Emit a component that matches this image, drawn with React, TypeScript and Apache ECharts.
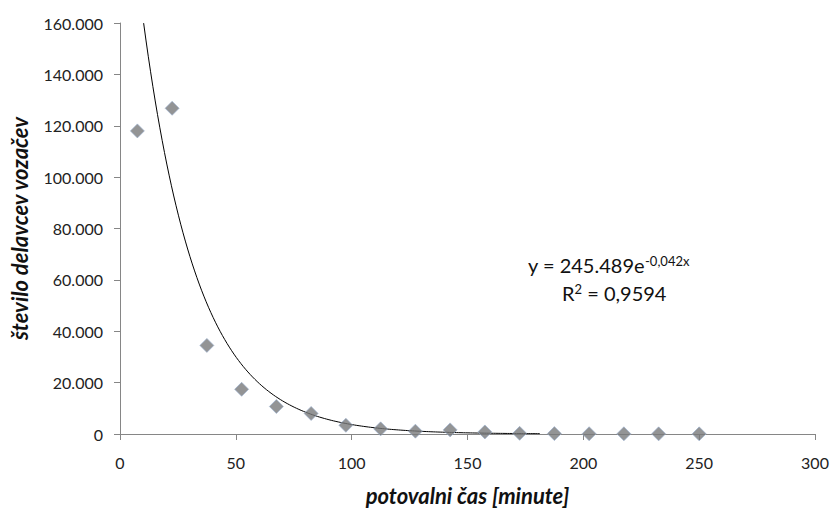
import React, { useEffect, useRef } from "react";
import * as echarts from "echarts";

const xValues = [7.5, 22.5, 37.5, 52.5, 67.5, 82.5, 97.5, 112.5, 127.5, 142.5, 157.5, 172.5, 187.5, 202.5, 217.5, 232.5, 250];
const yValues = [118000, 126800, 34500, 17400, 10700, 8000, 3400, 2000, 1100, 1600, 800, 250, 150, 100, 80, 60, 50];
const trendA = 245489;
const trendB = -0.042;
const trendStart = 10.2;
const trendEnd = 182;
const xTitle = "potovalni čas [minute]";
const yTitle = "število delavcev vozačev";

function fmtThousands(v: number): string {
  return String(Math.round(v)).replace(/\B(?=(\d{3})+(?!\d))/g, ".");
}

export default function App() {
  const ref = useRef<HTMLDivElement>(null);
  useEffect(() => {
    if (!ref.current) return;
    const chart = echarts.init(ref.current, null, { renderer: "svg" });
    const trend: number[][] = [];
    for (let x = trendStart; x <= trendEnd; x += 1) {
      trend.push([x, trendA * Math.exp(trendB * x)]);
    }
    const axisColor = "#868686";
    chart.setOption({
      animation: false,
      backgroundColor: "#ffffff",
      grid: { left: 120, right: 17, top: 23, bottom: 76, containLabel: false, outerBoundsMode: "none" },
      xAxis: {
        type: "value",
        min: 0,
        max: 300,
        interval: 50,
        splitLine: { show: false },
        axisLine: { lineStyle: { color: axisColor } },
        axisTick: { show: true, length: 6, lineStyle: { color: axisColor } },
        axisLabel: { color: "#222", fontFamily: "Lato", fontSize: 16, margin: 20 },
        name: xTitle,
        nameLocation: "middle",
        nameGap: 50,
        nameTextStyle: { fontFamily: "Lato", fontSize: 22, fontWeight: "bold", fontStyle: "italic", color: "#111" },
      },
      yAxis: {
        type: "value",
        min: 0,
        max: 160000,
        interval: 20000,
        splitLine: { show: false },
        axisLine: { show: true, lineStyle: { color: axisColor } },
        axisTick: { show: true, length: 6, lineStyle: { color: axisColor } },
        axisLabel: {
          color: "#222",
          fontFamily: "Lato",
          fontSize: 16,
          margin: 17,
          formatter: (v: number) => fmtThousands(v),
        },
        name: yTitle,
        nameLocation: "middle",
        nameGap: 90,
        nameRotate: 90,
        nameTextStyle: { fontFamily: "Lato", fontSize: 22, fontWeight: "bold", fontStyle: "italic", color: "#111" },
      },
      series: [
        {
          type: "line",
          data: trend,
          showSymbol: false,
          symbol: "none",
          lineStyle: { color: "#000", width: 1 },
          z: 2,
        },
        {
          type: "scatter",
          data: xValues.map((x, i) => [x, yValues[i]]),
          symbol: "diamond",
          symbolSize: 14,
          itemStyle: { color: "#78797b", borderColor: "#9ab0cf", borderWidth: 0.8 },
          z: 3,
        },
      ],
      graphic: [
        {
          type: "text",
          left: 528,
          top: 254,
          style: {
            text: "{b|y = 245.489e}{s|-0,042x}",
            rich: {
              b: { fontFamily: "Lato", fontSize: 20, fill: "#111" },
              s: { fontFamily: "Lato", fontSize: 13, fill: "#111", verticalAlign: "top", padding: [0, 0, 9, 0] },
            },
          },
        },
        {
          type: "text",
          left: 562,
          top: 282,
          style: {
            text: "{b|R}{s|2}{b| = 0,9594}",
            rich: {
              b: { fontFamily: "Lato", fontSize: 20, fill: "#111" },
              s: { fontFamily: "Lato", fontSize: 13, fill: "#111", padding: [0, 0, 9, 0] },
            },
          },
        },
      ],
    });
    return () => chart.dispose();
  }, []);
  return (
    <div
      ref={ref}
      style={{ position: "fixed", left: 0, top: 0, width: 832, height: 510 }}
    />
  );
}
